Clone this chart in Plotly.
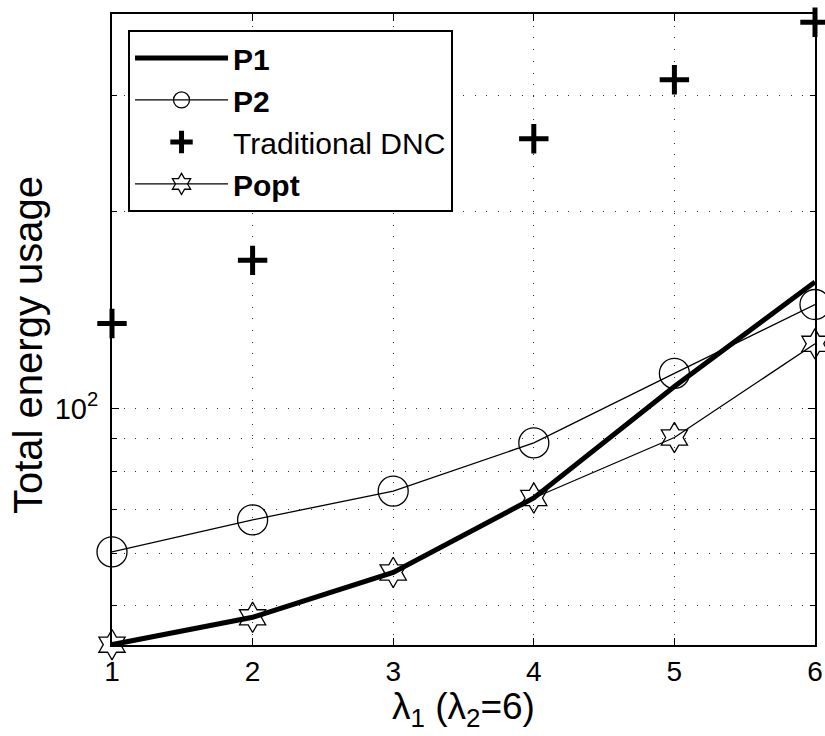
import plotly.graph_objects as go
import math

x_vals = [1, 2, 3, 4, 5, 6]
p1 = [43.6, 48.0, 56.2, 73.0, 108.0, 156.0]
p2 = [60.4, 67.6, 74.8, 88.6, 113.1, 144.1]
dnc = [134.8, 168.3, 210.0, 258.0, 317.5, 388.6]
popt = [43.6, 48.0, 56.2, 73.0, 90.3, 125.5]

y_major = [100]
y_major_text = ["10<sup>2</sup>"]
y_minor = [50, 60, 70, 80, 90, 200, 300, 400]
y_min, y_max = 43.55, 400.0

FONT = "Liberation Sans, Arial, Helvetica, sans-serif"

fig = go.Figure()
fig.add_trace(go.Scatter(x=x_vals, y=p1, mode="lines", name="<b>P1</b>",
                         line=dict(color="black", width=5)))
fig.add_trace(go.Scatter(x=x_vals, y=p2, mode="lines+markers", name="<b>P2</b>",
                         line=dict(color="black", width=1.3),
                         marker=dict(symbol="circle-open", size=30, color="black",
                                     line=dict(width=1.3, color="black")),
                         cliponaxis=False))
fig.add_trace(go.Scatter(x=x_vals, y=dnc, mode="markers", name="Traditional DNC",
                         marker=dict(symbol="cross-thin-open", size=21, color="black",
                                     line=dict(width=5, color="black")),
                         cliponaxis=False))
fig.add_trace(go.Scatter(x=x_vals, y=popt, mode="lines+markers", name="<b>Popt</b>",
                         line=dict(color="black", width=1.3),
                         marker=dict(symbol="hexagram-open", size=23, color="black",
                                     line=dict(width=1.3, color="black")),
                         cliponaxis=False))

fig.update_layout(
    width=825, height=736,
    margin=dict(l=112, r=10, t=14, b=91),
    paper_bgcolor="white", plot_bgcolor="white",
    font=dict(family=FONT, color="black", size=28),
    showlegend=True,
    legend=dict(x=0.0228, y=0.9747, xanchor="left", yanchor="top",
                bgcolor="white", bordercolor="black", borderwidth=2,
                font=dict(family=FONT, size=30, color="black"),
                itemwidth=93, tracegroupgap=0),
    xaxis=dict(range=[1, 6], tickvals=x_vals, ticks="inside", ticklen=7,
               tickcolor="black", tickwidth=1, showline=True, linecolor="black",
               linewidth=2, mirror="allticks", showgrid=True, gridcolor="#333333",
               gridwidth=1, griddash="1px,10.7px", zeroline=False,
               tickfont=dict(size=28), ticklabelstandoff=0, automargin=False),
    yaxis=dict(type="log", range=[math.log10(y_min), math.log10(y_max)],
               tickmode="array", tickvals=y_major, ticktext=y_major_text,
               ticks="inside", ticklen=7, tickcolor="black", tickwidth=1,
               showline=True, linecolor="black", linewidth=2, mirror="allticks",
               showgrid=True, gridcolor="#333333", gridwidth=1,
               griddash="1px,10.7px", zeroline=False, automargin=False,
               tickfont=dict(size=29), ticklabelstandoff=6,
               minor=dict(tickmode="array", tickvals=y_minor, ticks="inside",
                          ticklen=5, tickcolor="black", showgrid=True,
                          gridcolor="#333333", gridwidth=1,
                          griddash="1px,10.7px")),
    annotations=[
        dict(text="Total energy usage", textangle=-90, xref="paper", yref="paper",
             x=-0.1195, y=0.4754, xanchor="center", yanchor="middle",
             showarrow=False, font=dict(size=40, family=FONT)),
        dict(text="λ<sub>1</sub> (λ<sub>2</sub>=6)", xref="paper", yref="paper",
             x=0.5, y=-0.062, xanchor="center", yanchor="top",
             showarrow=False, font=dict(size=37, family=FONT)),
    ],
)

fig.write_html("out.html", config={"displayModeBar": False},
               post_script="document.body.style.margin='0';document.body.style.padding='0';")
